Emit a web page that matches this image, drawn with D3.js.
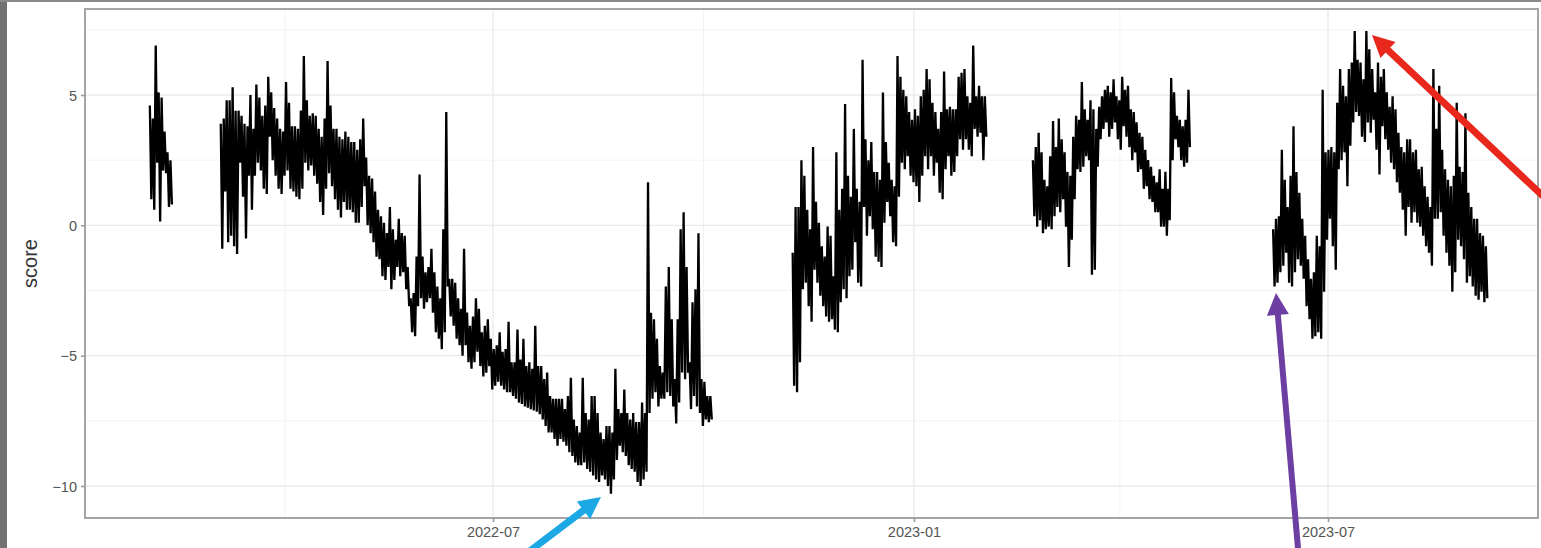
<!DOCTYPE html>
<html>
<head>
<meta charset="utf-8">
<script src="https://cdn.jsdelivr.net/npm/d3@7"></script>
<style>
  body { margin: 0; background: #fff; }
  svg { display: block; font-family: "Liberation Sans", Arial, sans-serif; }
</style>
</head>
<body>
<div id="chart"></div>
<script>
// segment date spans (gaps between them are missing data)
const segStarts = ['2022-02-01', '2022-03-04', '2022-11-09', '2023-02-22', '2023-06-07'];
const segEnds   = ['2022-02-10', '2022-10-04', '2023-02-01', '2023-05-01', '2023-09-08'];

// upper / lower swing of the score, evenly spaced in each span
const seg1Hi = [4.6, 4.1, 6.9, 5.1, 4.9, 3.6, 2.8, 2.5];
const seg1Lo = [1.0, 0.6, 2.4, 0.15, 2.1, 2.0, 0.7, 0.8];

const seg2Hi = [3.9, 4.1, 4.8, 4.8, 5.3, 4.4, 4.4, 4.2, 3.9, 3.8,
  5.0, 3.7, 5.4, 4.9, 4.2, 4.6, 5.7, 5.1, 4.5, 4.1,
  3.7, 3.6, 5.5, 4.7, 3.8, 3.8, 3.7, 4.4, 6.5, 4.8,
  4.2, 4.3, 4.2, 3.7, 3.4, 4.1, 6.3, 4.6, 3.7, 3.7,
  3.4, 3.3, 3.6, 3.4, 3.2, 3.2, 2.9, 3.3, 4.1, 2.6,
  1.9, 1.8, 1.3, 0.6, 0.35, 0.1, -0.3, 0.7, -0.15, -0.55,
  0.25, -0.3, -0.4, -1.6, -2.8, -2.6, -1.2, 1.95, -1.2, -1.8,
  -1.6, -0.9, -1.8, -2.35, -2.8, -0.15, 4.35, -2.05, -2.05, -2.2,
  -2.8, -3.2, -0.9, -3.35, -3.85, -3.5, -2.8, -3.2, -4.1, -3.85,
  -3.6, -4.35, -4.75, -4.6, -4.1, -4.85, -4.75, -3.7, -5.25, -5.25,
  -4.0, -5.15, -4.35, -5.4, -5.25, -5.5, -3.85, -5.4, -5.4, -5.9,
  -5.65, -6.55, -6.65, -6.65, -6.65, -6.65, -7.05, -6.55, -5.85, -7.45,
  -7.7, -7.95, -5.85, -7.2, -7.45, -6.55, -6.55, -7.2, -7.95, -8.2,
  -7.7, -7.7, -7.95, -5.5, -7.05, -7.2, -6.3, -7.2, -7.45, -7.2,
  -7.55, -7.55, -6.8, -7.2, 1.65, -3.35, -3.6, -4.35, -5.4, -5.65,
  -2.35, -1.6, -3.6, -5.9, -3.6, -0.15, 0.5, -1.6, -5.25, -2.95,
  -2.45, -0.3, -5.9, -6.0, -6.55, -6.55];
const seg2Lo = [-0.9, 1.3, -0.65, -0.4, -0.8, -1.1, 2.4, 1.1, -0.5, 1.9,
  0.6, 1.9, 2.4, 2.1, 1.4, 1.2, 3.4, 2.5, 1.9, 1.4,
  1.2, 1.9, 2.1, 1.4, 1.3, 1.1, 1.0, 1.4, 2.4, 2.1,
  2.3, 1.9, 1.6, 0.9, 0.4, 1.4, 2.0, 1.5, 1.0, 0.6,
  0.3, 0.9, 0.6, 0.6, 0.5, 0.1, 0.1, 0.7, 1.5, 0.0,
  -0.3, -0.65, -1.2, -1.3, -1.95, -2.1, -1.6, -2.45, -2.1, -1.6,
  -1.95, -1.8, -2.45, -3.1, -4.1, -4.25, -3.1, -2.8, -3.2, -2.95,
  -2.8, -3.35, -4.1, -4.35, -4.75, -4.1, -2.35, -3.5, -3.85, -4.35,
  -4.6, -5.0, -4.6, -5.25, -5.5, -5.25, -4.85, -5.4, -5.8, -5.65,
  -5.4, -6.3, -6.15, -6.0, -6.15, -6.3, -6.4, -6.4, -6.55, -6.65,
  -6.8, -6.85, -6.95, -7.0, -7.05, -7.1, -7.15, -7.25, -7.45, -7.7,
  -7.95, -7.95, -8.2, -8.45, -8.2, -8.3, -8.45, -8.7, -8.85, -9.1,
  -9.2, -9.2, -9.1, -9.35, -9.45, -9.6, -9.75, -9.85, -9.6, -9.75,
  -10.0, -10.3, -9.75, -9.0, -8.45, -8.7, -8.85, -9.2, -9.35, -9.45,
  -9.85, -10.0, -9.75, -9.45, -7.2, -6.65, -6.4, -6.95, -6.65, -6.65,
  -6.4, -6.55, -6.95, -7.6, -6.8, -5.65, -5.9, -5.65, -7.05, -6.55,
  -6.95, -7.2, -7.7, -7.45, -7.55, -7.45];

const seg3Hi = [-1.05, 0.7, 0.7, 2.5, 1.9, 0.6, -0.15, 3.0, 0.9, 0.1,
  -0.8, -1.2, -0.05, -0.4, -1.95, 2.8, 0.6, 1.4, 4.65, 1.9,
  1.1, 3.7, 1.4, 0.9, 6.35, 3.3, 2.5, 3.2, 2.05, 2.05,
  1.75, 5.1, 3.2, 2.4, 1.75, 1.5, 6.5, 5.7, 5.2, 4.95,
  4.35, 4.05, 4.45, 4.2, 4.95, 5.2, 6.0, 5.6, 4.7, 4.35,
  3.7, 4.35, 5.9, 4.45, 4.55, 4.45, 4.45, 5.7, 5.85, 6.0,
  4.95, 4.7, 6.9, 4.95, 5.35, 4.95, 4.95];
const seg3Lo = [-6.15, -6.4, -5.25, -2.45, -2.2, -3.1, -3.7, -1.7, -2.2, -2.7,
  -3.1, -3.5, -3.7, -3.6, -4.0, -4.1, -2.95, -2.45, -2.8, -1.95,
  -1.7, -0.65, -2.2, -2.35, 0.7, -0.4, 0.35, -0.15, -1.2, -1.4,
  -1.6, 0.1, 0.9, 0.35, -0.65, -0.8, 1.1, 2.4, 2.15, 2.65,
  1.9, 1.65, 1.5, 0.9, 1.9, 2.65, 2.15, 2.65, 1.9, 2.4,
  1.25, 1.0, 2.15, 2.65, 1.9, 2.05, 2.65, 3.3, 2.9, 3.3,
  2.9, 2.65, 3.7, 3.4, 3.55, 2.5, 3.4];

const seg4Hi = [2.5, 3.0, 3.55, 2.8, 1.75, 1.5, 2.65, 4.0, 3.0, 4.1,
  3.3, 2.8, 2.05, 1.9, 3.4, 4.2, 4.05, 5.5, 4.45, 4.05,
  4.8, 4.45, 3.7, 4.55, 4.95, 5.2, 5.35, 5.1, 5.6, 4.95,
  4.8, 5.7, 5.2, 5.35, 4.45, 4.35, 3.95, 3.55, 3.4, 2.9,
  2.5, 2.25, 1.9, 1.65, 2.15, 1.4, 2.05, 1.4, 5.65, 5.1,
  4.2, 4.05, 3.8, 4.05, 5.2];
const seg4Lo = [0.35, -0.05, 0.2, -0.3, -0.15, -0.05, -0.15, 0.35, 0.7, 0.5,
  1.0, -0.05, -1.6, -0.55, 1.0, 2.15, 2.05, 2.25, 2.65, 2.5,
  -1.9, -1.7, 2.25, 3.3, 3.7, 3.95, 3.4, 3.7, 3.95, 3.3,
  2.9, 3.8, 3.4, 3.0, 2.5, 2.8, 2.05, 2.15, 1.4, 1.5,
  1.0, 0.9, 0.5, 0.5, -0.05, -0.05, -0.4, 0.2, 2.5, 3.3,
  3.0, 2.5, 2.25, 2.4, 3.0];

const seg5Hi = [-0.15, 0.25, 0.35, 2.9, 1.75, 0.7, 1.9, 3.8, 2.05, 1.25,
  0.25, -0.4, -1.3, -2.05, -1.8, -0.4, -0.8, 5.2, 2.8, 2.9,
  3.0, 2.8, 4.7, 6.0, 5.35, 4.95, 6.0, 6.25, 7.45, 6.35,
  6.25, 5.6, 7.45, 6.75, 6.0, 5.1, 6.25, 5.7, 6.0, 5.1,
  4.55, 4.95, 4.45, 3.55, 3.0, 2.8, 3.3, 3.3, 2.8, 2.9,
  2.15, 2.25, 1.5, 1.1, 0.7, 6.0, 3.7, 5.35, 2.9, 2.15,
  1.75, 1.5, 1.9, 4.7, 2.25, 2.05, 4.3, 1.25, 0.7, 0.25,
  0.25, -0.3, -0.4, -0.8];
const seg5Lo = [-2.35, -2.2, -1.8, -1.55, -1.05, -2.2, -2.35, -1.8, -1.3, -1.55,
  -2.05, -3.1, -3.6, -4.35, -4.25, -4.1, -4.35, -2.55, -0.55, 0.25,
  -0.8, -1.7, 2.15, 2.5, 2.8, 1.5, 3.05, 3.95, 4.35, 4.2,
  3.4, 3.2, 3.95, 3.55, 4.05, 2.9, 1.95, 3.8, 3.3, 2.9,
  2.4, 2.15, 1.65, 1.25, 0.6, -0.4, 0.7, 0.1, 0.5, 0.1,
  -0.05, -0.4, -0.8, -1.05, -1.55, 0.25, 0.25, 0.5, -0.4, -1.05,
  -1.55, -2.55, -1.8, -0.55, -0.8, -1.3, -2.2, -1.95, -2.35, -2.7,
  -2.85, -2.55, -2.95, -2.8];

const segHi = [seg1Hi, seg2Hi, seg3Hi, seg4Hi, seg5Hi];
const segLo = [seg1Lo, seg2Lo, seg3Lo, seg4Lo, seg5Lo];

// axis breaks
const xMajor = ['2022-07-01', '2023-01-01', '2023-07-01'];
const xMinor = ['2022-04-01', '2022-10-01', '2023-04-01'];
const yMajor = [-10, -5, 0, 5];
const yMinor = [-7.5, -2.5, 2.5, 7.5];

const width = 1541, height = 548;
const panel = { left: 85, right: 1538, top: 9, bottom: 518 };
const parse = d3.utcParse('%Y-%m-%d');

const x = d3.scaleUtc()
  .domain([parse('2022-07-01'), parse('2023-07-01')])
  .range([493, 1328]);
x.domain([x.invert(panel.left), x.invert(panel.right)]).range([panel.left, panel.right]);

const y = d3.scaleLinear()
  .domain([-10, 5])
  .range([486, 95]);
y.domain([y.invert(panel.bottom), y.invert(panel.top)]).range([panel.bottom, panel.top]);

const svg = d3.select('#chart').append('svg')
  .attr('width', width)
  .attr('height', height);

svg.append('rect').attr('width', width).attr('height', height).attr('fill', '#fff');

// grid
const grid = svg.append('g');
grid.selectAll('.ymin').data(yMinor).enter().append('line')
  .attr('x1', panel.left).attr('x2', panel.right)
  .attr('y1', d => y(d)).attr('y2', d => y(d))
  .attr('stroke', '#f3f3f3').attr('stroke-width', 1);
grid.selectAll('.xmin').data(xMinor).enter().append('line')
  .attr('x1', d => x(parse(d))).attr('x2', d => x(parse(d)))
  .attr('y1', panel.top).attr('y2', panel.bottom)
  .attr('stroke', '#f3f3f3').attr('stroke-width', 1);
grid.selectAll('.ymaj').data(yMajor).enter().append('line')
  .attr('x1', panel.left).attr('x2', panel.right)
  .attr('y1', d => y(d)).attr('y2', d => y(d))
  .attr('stroke', '#ebebeb').attr('stroke-width', 1.4);
grid.selectAll('.xmaj').data(xMajor).enter().append('line')
  .attr('x1', d => x(parse(d))).attr('x2', d => x(parse(d)))
  .attr('y1', panel.top).attr('y2', panel.bottom)
  .attr('stroke', '#ebebeb').attr('stroke-width', 1.4);

// series: each sample swings from its high to its low
const line = d3.line().x(d => x(d.t)).y(d => y(d.v));
segStarts.forEach((s, i) => {
  const t0 = parse(s).getTime(), t1 = parse(segEnds[i]).getTime();
  const hi = segHi[i], lo = segLo[i];
  const step = (t1 - t0) / (hi.length - 1);
  const pts = [];
  hi.forEach((h, k) => {
    pts.push({ t: new Date(t0 + k * step), v: h });
    pts.push({ t: new Date(t0 + k * step + step / 2), v: lo[k] });
  });
  svg.append('path')
    .datum(pts)
    .attr('d', line)
    .attr('fill', 'none')
    .attr('stroke', '#000')
    .attr('stroke-width', 2.3)
    .attr('stroke-linejoin', 'bevel');
});

// panel border
svg.append('rect')
  .attr('x', panel.left).attr('y', panel.top)
  .attr('width', panel.right - panel.left).attr('height', panel.bottom - panel.top)
  .attr('fill', 'none').attr('stroke', '#9c9c9c').attr('stroke-width', 1.8);

// axes
const yAxis = svg.append('g')
  .attr('transform', `translate(${panel.left},0)`)
  .call(d3.axisLeft(y).tickValues(yMajor).tickSize(4).tickPadding(4).tickFormat(d3.format('d')));
const xAxis = svg.append('g')
  .attr('transform', `translate(0,${panel.bottom})`)
  .call(d3.axisBottom(x).tickValues(xMajor.map(parse)).tickSize(4).tickPadding(5)
    .tickFormat(d3.utcFormat('%Y-%m')));
[yAxis, xAxis].forEach(a => {
  a.select('.domain').remove();
  a.selectAll('.tick line').attr('stroke', '#9a9a9a').attr('stroke-width', 1.6);
  a.selectAll('.tick text').attr('fill', '#555').style('font-size', '14.5px');
});
yAxis.selectAll('.tick text').attr('dy', '0.35em');

svg.append('text')
  .attr('transform', `translate(37,${(panel.top + panel.bottom) / 2}) rotate(-90)`)
  .attr('text-anchor', 'middle')
  .style('font-size', '20px')
  .attr('fill', '#333')
  .text('score');

// overlaid annotation arrows
const arrows = [
  { from: [518, 560], to: [601, 497], color: '#1ba8e4', w: 7 },
  { from: [1299, 560], to: [1276, 293], color: '#6e3fa2', w: 6 },
  { from: [1546, 199], to: [1372, 35], color: '#e8281c', w: 7 }
];
arrows.forEach(a => {
  const dx = a.to[0] - a.from[0], dy = a.to[1] - a.from[1];
  const len = Math.hypot(dx, dy), ux = dx / len, uy = dy / len;
  const head = 22, half = 11;
  const bx = a.to[0] - ux * head, by = a.to[1] - uy * head;
  svg.append('line')
    .attr('x1', a.from[0]).attr('y1', a.from[1])
    .attr('x2', bx + ux * 2).attr('y2', by + uy * 2)
    .attr('stroke', a.color).attr('stroke-width', a.w);
  svg.append('path')
    .attr('d', `M${a.to[0]},${a.to[1]}L${bx - uy * half},${by + ux * half}L${bx + uy * half},${by - ux * half}Z`)
    .attr('fill', a.color);
});

// frame of the captured screen
svg.append('rect').attr('x', 0).attr('y', 0).attr('width', 7).attr('height', height).attr('fill', '#727272');
svg.append('rect').attr('x', 0).attr('y', 0).attr('width', width).attr('height', 2).attr('fill', '#8a8a8a');
</script>
</body>
</html>
